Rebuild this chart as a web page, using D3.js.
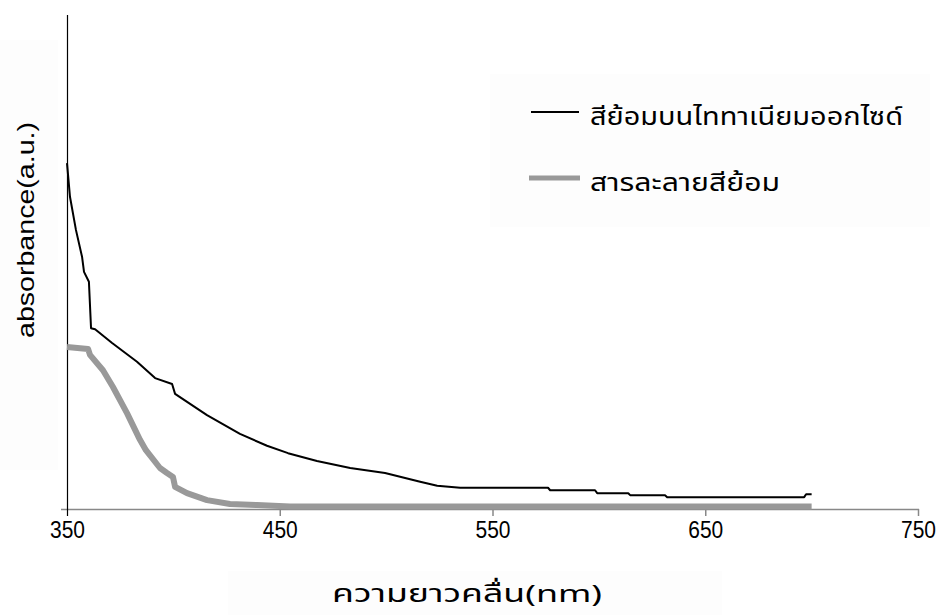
<!DOCTYPE html>
<html>
<head>
<meta charset="utf-8">
<script src="https://cdn.jsdelivr.net/npm/d3@7"></script>
<style>
  html, body { margin: 0; padding: 0; background: #ffffff; }
  svg { display: block; }
  .thai { font-family: "Noto Sans Thai", "Noto Sans Thai Looped", Tahoma, "Noto Sans", sans-serif; }
  .lat { font-family: Arial, "Liberation Sans", sans-serif; }
</style>
</head>
<body>
<svg id="chart" width="941" height="615"></svg>
<script>
// ---- data ----
const xTicks = [350, 450, 550, 650, 750];
const seriesNames = ["สีย้อมบนไททาเนียมออกไซด์", "สารละลายสีย้อม"];
const dyeOnTiO2Wavelength = [350.0, 351.4, 354.2, 357.1, 358.0, 360.3, 361.3, 363.2, 371.2, 382.9, 391.4, 399.4, 400.8, 415.8, 431.3, 444.0, 453.9, 467.5, 483.1, 499.5, 516.0, 524.0, 534.8, 576.1, 577.1, 598.2, 599.2, 613.8, 614.7, 631.1, 632.1, 696.5, 697.4, 700.0];
const dyeOnTiO2Absorbance = [0.700, 0.632, 0.565, 0.510, 0.480, 0.460, 0.366, 0.364, 0.336, 0.298, 0.265, 0.253, 0.233, 0.190, 0.152, 0.128, 0.113, 0.097, 0.083, 0.073, 0.055, 0.047, 0.043, 0.043, 0.038, 0.038, 0.032, 0.032, 0.028, 0.028, 0.024, 0.024, 0.030, 0.030];
const dyeSolutionWavelength = [350.0, 359.9, 360.8, 366.9, 371.6, 378.2, 384.3, 387.1, 393.7, 397.0, 399.8, 400.8, 406.4, 415.8, 426.6, 439.3, 454.8, 700.0];
const dyeSolutionAbsorbance = [0.328, 0.324, 0.312, 0.281, 0.247, 0.194, 0.140, 0.119, 0.083, 0.073, 0.065, 0.045, 0.032, 0.018, 0.010, 0.008, 0.005, 0.005];
const xTitle = "ความยาวคลื่น(nm)";
const yTitle = "absorbance(a.u.)";

// ---- layout ----
const svg = d3.select("#chart");
const x = d3.scaleLinear().domain([350, 750]).range([67, 918]);
const y = d3.scaleLinear().domain([0, 1]).range([509, 15]);

// very faint background boxes (as in the reference)
svg.append("rect").attr("x", 0).attr("y", 40).attr("width", 58).attr("height", 430).attr("fill", "#fdfdfd");
svg.append("rect").attr("x", 490).attr("y", 74).attr("width", 440).attr("height", 153).attr("fill", "#fdfdfd");
svg.append("rect").attr("x", 228).attr("y", 571).attr("width", 494).attr("height", 44).attr("fill", "#fdfdfd");

// x axis
const xAxis = d3.axisBottom(x).tickValues(xTicks).tickSize(7).tickPadding(6).tickSizeOuter(0).tickFormat(d3.format("d"));
const gx = svg.append("g").attr("transform", "translate(0,509)").call(xAxis);
gx.select(".domain").remove();
gx.selectAll(".tick line").attr("stroke", "#888888").attr("stroke-width", 1.5);
gx.selectAll(".tick text")
  .attr("class", "lat")
  .attr("fill", "#000")
  .style("font-size", "23px")
  .attr("dy", null)
  .attr("y", 29)
  .attr("textLength", 35)
  .attr("lengthAdjust", "spacingAndGlyphs");
gx.select(".tick line").remove(); // the y axis line covers the first tick
svg.append("line").attr("x1", 61).attr("x2", 919).attr("y1", 509.5).attr("y2", 509.5)
  .attr("stroke", "#888888").attr("stroke-width", 1.5);

// y axis (no tick labels)
const yAxis = d3.axisLeft(y).tickValues([]).tickSizeOuter(0);
const gy = svg.append("g").attr("transform", "translate(67,0)").call(yAxis);
gy.select(".domain").remove();
svg.append("line").attr("x1", 67.5).attr("x2", 67.5).attr("y1", y(1)).attr("y2", 516)
  .attr("stroke", "#000").attr("stroke-width", 1.2);

// lines
const line = d3.line().x(d => x(d[0])).y(d => y(d[1]));
const solution = d3.zip(dyeSolutionWavelength, dyeSolutionAbsorbance);
const onTiO2 = d3.zip(dyeOnTiO2Wavelength, dyeOnTiO2Absorbance);
svg.append("path").datum(solution).attr("d", line)
  .attr("fill", "none").attr("stroke", "#999999").attr("stroke-width", 6)
  .attr("stroke-linejoin", "round");
svg.append("path").datum(onTiO2).attr("d", line)
  .attr("fill", "none").attr("stroke", "#000000").attr("stroke-width", 2)
  .attr("stroke-linejoin", "round");

// legend
const legendRows = [
  { name: seriesNames[0], color: "#000", width: 2, x1: 531, x2: 579, ly: 112, ty: 125, len: 313 },
  { name: seriesNames[1], color: "#999999", width: 5, x1: 529, x2: 580, ly: 178, ty: 191, len: 190 }
];
const lg = svg.append("g");
legendRows.forEach(r => {
  lg.append("line").attr("x1", r.x1).attr("x2", r.x2).attr("y1", r.ly).attr("y2", r.ly)
    .attr("stroke", r.color).attr("stroke-width", r.width);
  lg.append("text").attr("class", "thai").attr("x", 590).attr("y", r.ty)
    .style("font-size", "24px").attr("fill", "#000")
    .attr("textLength", r.len).attr("lengthAdjust", "spacingAndGlyphs")
    .text(r.name);
});

// axis titles
svg.append("text").attr("class", "thai").attr("x", 332).attr("y", 602)
  .style("font-size", "24px").attr("fill", "#000")
  .attr("textLength", 270).attr("lengthAdjust", "spacingAndGlyphs")
  .text(xTitle);
svg.append("text").attr("class", "lat")
  .attr("transform", "translate(34,338) rotate(-90)")
  .attr("x", 0).attr("y", 0)
  .style("font-size", "24px").attr("fill", "#000")
  .attr("textLength", 216).attr("lengthAdjust", "spacingAndGlyphs")
  .text(yTitle);
</script>
</body>
</html>
